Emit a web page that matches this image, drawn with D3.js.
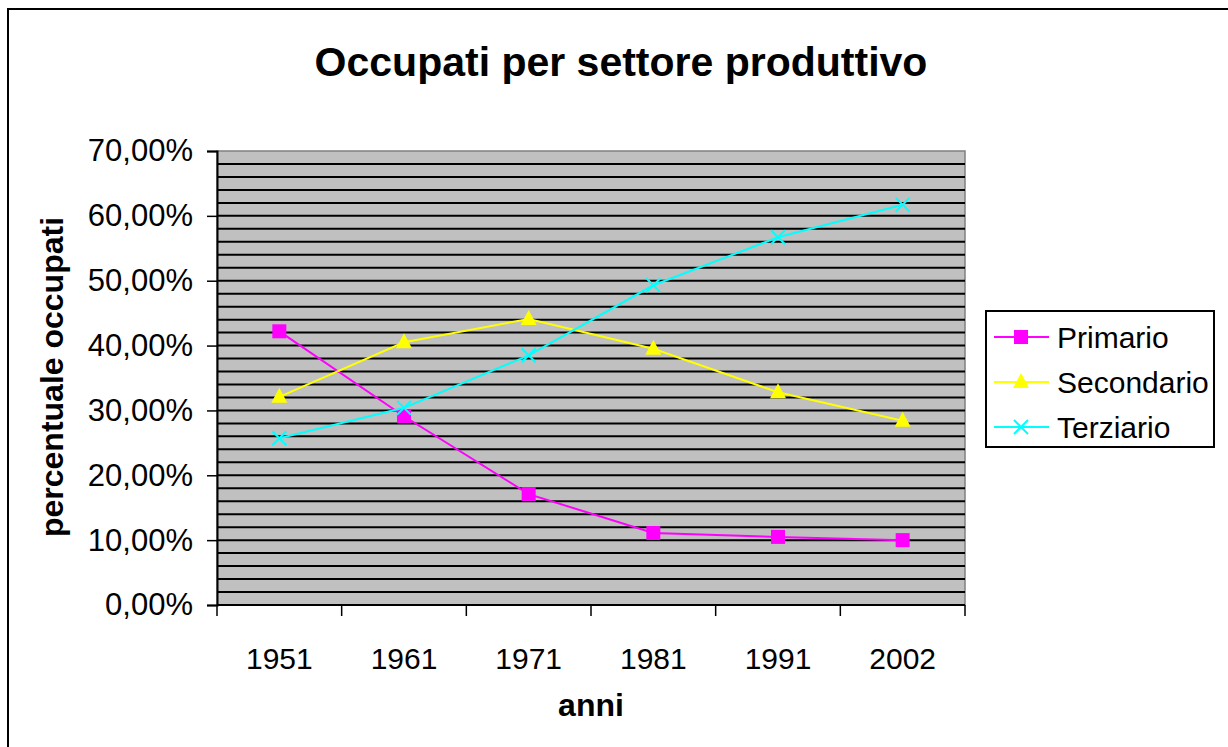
<!DOCTYPE html>
<html>
<head>
<meta charset="utf-8">
<script src="https://cdn.jsdelivr.net/npm/d3@7"></script>
<style>
  html, body { margin: 0; padding: 0; background: #fff; }
  svg { display: block; font-family: "Liberation Sans", Arial, sans-serif; }
</style>
</head>
<body>
<svg id="chart" width="1228" height="747"></svg>
<script>
// dati (percentuali)
var anni = ["1951", "1961", "1971", "1981", "1991", "2002"];
var primario = [42.2, 29.1, 17.1, 11.1, 10.5, 10.0];
var secondario = [32.1, 40.5, 44.1, 39.5, 32.8, 28.4];
var terziario = [25.7, 30.4, 38.5, 49.3, 56.7, 61.7];
var yTicks = [0, 10, 20, 30, 40, 50, 60, 70];

var serie = [
  { name: "Primario", values: primario, color: "#ff00ff", marker: "square" },
  { name: "Secondario", values: secondario, color: "#ffff00", marker: "triangle" },
  { name: "Terziario", values: terziario, color: "#00ffff", marker: "cross" }
];

var svg = d3.select("#chart");
var plot = { left: 217, top: 151, right: 965, bottom: 605 };

// cornice esterna
svg.append("rect")
  .attr("x", 8).attr("y", 9)
  .attr("width", 1240).attr("height", 760)
  .attr("fill", "none").attr("stroke", "#000").attr("stroke-width", 2);

var x = d3.scaleBand().domain(anni).range([plot.left, plot.right]);
var y = d3.scaleLinear().domain([0, 70]).range([plot.bottom, plot.top]);

// sfondo area del grafico
svg.append("rect")
  .attr("x", plot.left).attr("y", plot.top)
  .attr("width", plot.right - plot.left).attr("height", plot.bottom - plot.top)
  .attr("fill", "#c0c0c0").attr("stroke", "#808080").attr("stroke-width", 1.5);

// griglia ogni 2%
svg.append("g")
  .selectAll("line")
  .data(d3.range(2, 70, 2))
  .enter()
  .append("line")
  .attr("x1", plot.left).attr("x2", plot.right)
  .attr("y1", function(d) { return y(d); })
  .attr("y2", function(d) { return y(d); })
  .attr("stroke", "#000").attr("stroke-width", 2);

// asse y
var yAxis = svg.append("g")
  .attr("transform", "translate(" + plot.left + ",0)")
  .call(d3.axisLeft(y).tickValues(yTicks).tickSize(10).tickPadding(14)
    .tickFormat(function(d) { return d3.format(".2f")(d).replace(".", ",") + "%"; }));
yAxis.select(".domain").attr("stroke", "#000").attr("stroke-width", 2);
yAxis.selectAll(".tick line").attr("stroke", "#000").attr("stroke-width", 1.5);
yAxis.selectAll("text").attr("font-size", 31).attr("fill", "#000")
  .attr("font-family", "Liberation Sans, Arial, sans-serif");

// asse x (tacche ai bordi delle categorie)
var xAxis = svg.append("g")
  .attr("transform", "translate(0," + plot.bottom + ")");
xAxis.append("line")
  .attr("x1", plot.left).attr("x2", plot.right)
  .attr("stroke", "#000").attr("stroke-width", 2);
var bordi = anni.map(function(a) { return x(a); }).concat([plot.right]);
xAxis.selectAll(".tacca")
  .data(bordi)
  .enter()
  .append("line")
  .attr("x1", function(d) { return d; }).attr("x2", function(d) { return d; })
  .attr("y1", 0).attr("y2", 11)
  .attr("stroke", "#000").attr("stroke-width", 1.5);
xAxis.selectAll("text")
  .data(anni)
  .enter()
  .append("text")
  .attr("x", function(d) { return x(d) + x.bandwidth() / 2; })
  .attr("y", 64)
  .attr("text-anchor", "middle")
  .attr("font-size", 30)
  .text(function(d) { return d; });

// linee e marcatori
var line = d3.line()
  .x(function(d, i) { return x(anni[i]) + x.bandwidth() / 2; })
  .y(function(d) { return y(d); });

function drawMarker(g, tipo, color, cx, cy) {
  if (tipo == "square") {
    g.append("rect")
      .attr("x", cx - 7).attr("y", cy - 7)
      .attr("width", 14).attr("height", 14)
      .attr("fill", color);
  } else if (tipo == "triangle") {
    g.append("path")
      .attr("d", "M" + cx + "," + (cy - 9) + "L" + (cx + 8) + "," + (cy + 6) + "L" + (cx - 8) + "," + (cy + 6) + "Z")
      .attr("fill", color);
  } else {
    g.append("path")
      .attr("d", "M" + (cx - 7) + "," + (cy - 7) + "L" + (cx + 7) + "," + (cy + 7) +
        "M" + (cx + 7) + "," + (cy - 7) + "L" + (cx - 7) + "," + (cy + 7))
      .attr("stroke", color).attr("stroke-width", 2).attr("fill", "none");
  }
}

serie.forEach(function(s) {
  var g = svg.append("g");
  g.append("path")
    .datum(s.values)
    .attr("d", line)
    .attr("fill", "none")
    .attr("stroke", s.color)
    .attr("stroke-width", 2);
  s.values.forEach(function(v, i) {
    drawMarker(g, s.marker, s.color, x(anni[i]) + x.bandwidth() / 2, y(v));
  });
});

// titoli
svg.append("text")
  .attr("x", 621).attr("y", 76)
  .attr("text-anchor", "middle")
  .attr("font-size", 41).attr("font-weight", "bold")
  .text("Occupati per settore produttivo");

svg.append("text")
  .attr("x", 591).attr("y", 716)
  .attr("text-anchor", "middle")
  .attr("font-size", 32).attr("font-weight", "bold")
  .text("anni");

svg.append("text")
  .attr("transform", "translate(63,377) rotate(-90)")
  .attr("text-anchor", "middle")
  .attr("font-size", 32).attr("font-weight", "bold")
  .text("percentuale occupati");

// legenda
var legend = svg.append("g");
legend.append("rect")
  .attr("x", 986).attr("y", 311)
  .attr("width", 228).attr("height", 136)
  .attr("fill", "#fff").attr("stroke", "#000").attr("stroke-width", 2);

serie.forEach(function(s, i) {
  var ly = 337 + i * 45;
  legend.append("line")
    .attr("x1", 994).attr("x2", 1049)
    .attr("y1", ly).attr("y2", ly)
    .attr("stroke", s.color).attr("stroke-width", 2);
  drawMarker(legend, s.marker, s.color, 1021, ly);
  legend.append("text")
    .attr("x", 1057).attr("y", ly + 11)
    .attr("font-size", 30)
    .text(s.name);
});
</script>
</body>
</html>
